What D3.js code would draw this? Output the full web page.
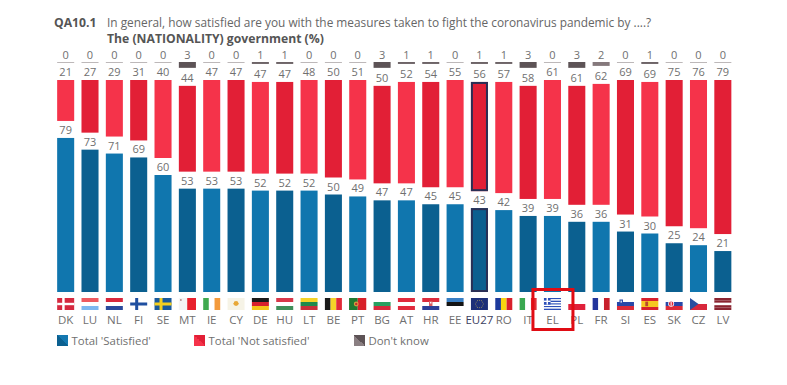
<!DOCTYPE html>
<html>
<head>
<meta charset="utf-8">
<script src="https://cdn.jsdelivr.net/npm/d3@7"></script>
<style>
  html, body { margin: 0; padding: 0; background: #fff; }
  text { font-family: "Open Sans", sans-serif; }
</style>
</head>
<body>
<div id="chart"></div>
<script>
const countries = ["DK","LU","NL","FI","SE","MT","IE","CY","DE","HU","LT","BE","PT","BG","AT","HR","EE","EU27","RO","IT","EL","PL","FR","SI","ES","SK","CZ","LV"]
const satisfied = [79,73,71,69,60,53,53,53,52,52,52,50,49,47,47,45,45,43,42,39,39,36,36,31,30,25,24,21]
const not_satisfied = [21,27,29,31,40,44,47,47,47,47,48,50,51,50,52,54,55,56,57,58,61,61,62,69,69,75,76,79]
const dont_know = [0,0,0,0,0,3,0,0,1,1,0,0,0,3,1,1,0,1,1,3,0,3,2,0,1,0,0,0]
const legend_labels = ["Total 'Satisfied'", "Total 'Not satisfied'", "Don't know"]

// plain stripes of each flag, the small emblems are added further down
const flag_dir = {LU:"h",NL:"h",MT:"v",IE:"v",CY:"h",DE:"h",HU:"h",LT:"h",BE:"v",PT:"v",BG:"h",AT:"h",HR:"h",EE:"h",EU27:"h",RO:"v",IT:"v",EL:"h",PL:"h",FR:"v",SI:"h",ES:"h",SK:"h",CZ:"h",LV:"h",DK:"h",FI:"h",SE:"h"}
const flag_colors = {
  DK:["#d5293f"], LU:["#ee5a5f","#ffffff","#7db8f0"], NL:["#d8283c","#ffffff","#2a4a9c"], FI:["#ffffff"], SE:["#1a5a9c"],
  MT:["#f4f4f4","#e8202c"], IE:["#3fa94f","#ffffff","#f39a3c"], CY:["#f6f3e6"], DE:["#1a1a1a","#d8202c","#f5c518"],
  HU:["#d8384a","#ffffff","#3f8f5a"], LT:["#f5d328","#1e8a4c","#c8303a"], BE:["#1a1a1a","#f5d328","#e02a38"],
  PT:["#1f7a32","#d82028"], BG:["#ffffff","#28a060","#d8283c"], AT:["#e02a3c","#ffffff","#e02a3c"], HR:["#dc2c3c","#ffffff","#2c3f98"],
  EE:["#3a7fc4","#141414","#ffffff"], EU27:["#1c2f78"], RO:["#1c3a9c","#f8d410","#d8202c"], IT:["#3aa850","#ffffff","#e0303a"],
  EL:["#2c4fb8","#ffffff","#2c4fb8","#ffffff","#2c4fb8","#ffffff","#2c4fb8","#ffffff","#2c4fb8"], PL:["#ffffff","#e0203a"], FR:["#22359c","#ffffff","#c8202c"],
  SI:["#ffffff","#2848a8","#dc2a38"], ES:["#d8202c","#f6c820","#f6c820","#d8202c"], SK:["#ffffff","#2848a8","#dc2a38"], CZ:["#ffffff","#d8283c"],
  LV:["#8a2430","#8a2430","#ffffff","#8a2430","#8a2430"]
}

const width = 787
const height = 385

const x = d3.scaleBand().domain(countries).range([53.5, 735]).paddingInner(0.3).paddingOuter(0.15)
// one percentage point is 1.95px
const h = d3.scaleLinear().domain([0, 100]).range([0, 195])

const base_y = 292
const gap_red = 17
const gap_grey = 18

const svg = d3.select("#chart").append("svg")
  .attr("width", width).attr("height", height)
  .attr("viewBox", `0 0 ${width} ${height}`)
  .style("display", "block")

const defs = svg.append("defs")
function add_grad(id, c1, c2) {
  let g = defs.append("linearGradient").attr("id", id)
    .attr("x1", 0).attr("y1", 1).attr("x2", 1).attr("y2", 0)
  g.append("stop").attr("offset", "50%").attr("stop-color", c1)
  g.append("stop").attr("offset", "50%").attr("stop-color", c2)
}
add_grad("grad_blue", "#0b6090", "#1478b0")
add_grad("grad_red", "#f5334a", "#e21f36")
add_grad("grad_grey", "#8a7f82", "#5d5356")

// title
svg.append("text").attr("x", 54).attr("y", 27)
  .attr("font-size", 12.2).attr("font-weight", 700).attr("fill", "#555")
  .text("QA10.1")
svg.append("text").attr("x", 107).attr("y", 27)
  .attr("font-size", 11.85).attr("fill", "#666")
  .text("In general, how satisfied are you with the measures taken to fight the coronavirus pandemic by ....?")
svg.append("text").attr("x", 107).attr("y", 43)
  .attr("font-size", 12.2).attr("font-weight", 700).attr("fill", "#555")
  .text("The (NATIONALITY) government  (%)")

const rows = countries.map((c, i) => ({c, i, s: satisfied[i], n: not_satisfied[i], d: dont_know[i]}))
const red_top = d => base_y - h(d.s) - gap_red - h(d.n)

let bars = svg.append("g").selectAll("g").data(rows).join("g")

// satisfied
bars.append("rect")
  .attr("x", d => x(d.c)).attr("width", x.bandwidth())
  .attr("y", d => base_y - h(d.s)).attr("height", d => h(d.s))
  .attr("fill", d => d.i % 2 ? "#0b6090" : "#1076ae")

// not satisfied
bars.append("rect")
  .attr("x", d => x(d.c)).attr("width", x.bandwidth())
  .attr("y", red_top).attr("height", d => h(d.n))
  .attr("fill", d => d.i % 2 ? "#e21f36" : "#f5334a")

// don't know, zero still leaves a thin line
bars.append("rect")
  .attr("x", d => x(d.c)).attr("width", x.bandwidth())
  .attr("y", d => red_top(d) - gap_grey - h(d.d))
  .attr("height", d => d.d == 0 ? 1 : h(d.d))
  .attr("fill", d => d.d == 0 ? "#bdb8b9" : (d.d == 2 ? "#85797c" : (d.d == 1 ? "#6e6467" : "#5d5356")))

// EU27 gets an outline on both bars
bars.filter(d => d.c == "EU27").each(function (d) {
  let g = d3.select(this)
  g.append("rect").attr("x", x(d.c) + 1).attr("width", x.bandwidth() - 2)
    .attr("y", base_y - h(d.s) + 1).attr("height", h(d.s) - 2)
    .attr("fill", "#0b5f8f").attr("stroke", "#2a2f55").attr("stroke-width", 2)
  g.append("rect").attr("x", x(d.c) + 1).attr("width", x.bandwidth() - 2)
    .attr("y", red_top(d) + 1).attr("height", h(d.n) - 2)
    .attr("fill", "#e21f36").attr("stroke", "#2a2f55").attr("stroke-width", 2)
})

function add_labels(value, ypos) {
  bars.append("text")
    .attr("x", d => x(d.c) + x.bandwidth() / 2)
    .attr("y", ypos)
    .attr("text-anchor", "middle")
    .attr("font-size", 11)
    .attr("fill", "#707070")
    .text(value)
}
add_labels(d => d.s, d => base_y - h(d.s) - 4)
add_labels(d => d.n, d => red_top(d) - 4)
add_labels(d => d.d, d => red_top(d) - gap_grey - h(d.d) - 3)

// flags, drawn in a 17x12 box
const fw = 17, fh = 12
let flags = svg.append("g").selectAll("g").data(rows).join("g")
  .attr("transform", d => `translate(${x(d.c) + x.bandwidth() / 2 - fw / 2},298)`)

flags.each(function (d) {
  let g = d3.select(this)
  let cols = flag_colors[d.c]
  let band = d3.scaleBand().domain(d3.range(cols.length)).range([0, flag_dir[d.c] == "h" ? fh : fw])
  cols.forEach((col, j) => {
    if (flag_dir[d.c] == "h") {
      g.append("rect").attr("x", 0).attr("y", band(j)).attr("width", fw).attr("height", band.bandwidth()).attr("fill", col)
    } else {
      g.append("rect").attr("x", band(j)).attr("y", 0).attr("width", band.bandwidth()).attr("height", fh).attr("fill", col)
    }
  })
  let r = (a, b, w, l, col) => g.append("rect").attr("x", a).attr("y", b).attr("width", w).attr("height", l).attr("fill", col)
  let c = (a, b, rad, col) => g.append("circle").attr("cx", a).attr("cy", b).attr("r", rad).attr("fill", col)
  if (d.c == "DK") { r(5, 0, 2.5, fh, "#fff"); r(0, 4.8, fw, 2.4, "#fff") }
  if (d.c == "FI") { r(5, 0, 3, fh, "#1f4fa0"); r(0, 4.5, fw, 3, "#1f4fa0") }
  if (d.c == "SE") { r(5, 0, 3, fh, "#f5d020"); r(0, 4.5, fw, 3, "#f5d020") }
  if (d.c == "MT") { r(0, 0, fw / 2, fh, "#f4f4f4"); r(fw / 2, 0, fw / 2, fh, "#e8202c"); c(2, 2, 0.9, "#b08a8a") }
  if (d.c == "CY") { c(8.5, 5.5, 2.4, "#e8a838"); r(6, 5, 5, 1.5, "#e8a838") }
  if (d.c == "PT") { r(0, 0, 7, fh, "#1f7a32"); c(7, 6, 2.4, "#d8a040"); c(7, 6, 1.2, "#c03030") }
  if (d.c == "HR") { r(6.8, 3, 3.4, 5, "#d85a60"); r(7.8, 4, 1.4, 1.5, "#fff") }
  if (d.c == "EU27") {
    d3.range(12).forEach(k => {
      let a = k * Math.PI / 6
      c(8.5 + 3.8 * Math.cos(a), 6 + 3.8 * Math.sin(a), 0.45, "#e8d050")
    })
  }
  if (d.c == "EL") { r(0, 0, 6.6, 6.6, "#2c4fb8"); r(2.6, 0, 1.4, 6.6, "#fff"); r(0, 2.6, 6.6, 1.4, "#fff") }
  if (d.c == "SI") { r(2.5, 1.5, 3.5, 4.5, "#2848a8"); c(4.2, 5.6, 1.7, "#2848a8"); r(3.6, 2.6, 1.2, 2, "#fff") }
  if (d.c == "ES") { r(4, 3.6, 2.8, 4.6, "#b8482c") }
  if (d.c == "SK") { c(5.5, 5.8, 3, "#fff"); c(5.5, 5.8, 2.3, "#d8283c"); r(5, 3.8, 1, 4, "#fff") }
  if (d.c == "CZ") { g.append("path").attr("d", `M0,0L${fw / 2},${fh / 2}L0,${fh}Z`).attr("fill", "#2a4fa0") }
})

// country codes
svg.append("g").selectAll("text").data(rows).join("text")
  .attr("x", d => x(d.c) + x.bandwidth() / 2)
  .attr("y", 324)
  .attr("text-anchor", "middle")
  .attr("font-size", 11.5)
  .attr("fill", d => d.c == "EU27" ? "#3c4060" : "#707070")
  .text(d => d.c)

// highlight round the greek column
svg.append("rect")
  .attr("x", x("EL") + x.bandwidth() / 2 - 19.5).attr("y", 289.5)
  .attr("width", 40).attr("height", 40)
  .attr("fill", "none").attr("stroke", "#e00c14").attr("stroke-width", 3)

// legend
const legend_x = d3.scaleOrdinal().domain(legend_labels).range([57, 194, 354])
const grads = ["grad_blue", "grad_red", "grad_grey"]
legend_labels.forEach((label, i) => {
  svg.append("rect").attr("x", legend_x(label)).attr("y", 335)
    .attr("width", 11).attr("height", 11).attr("fill", `url(#${grads[i]})`)
  svg.append("text").attr("x", legend_x(label) + 14.5).attr("y", 345)
    .attr("font-size", 11.4).attr("fill", "#707070").text(label)
})
</script>
</body>
</html>
